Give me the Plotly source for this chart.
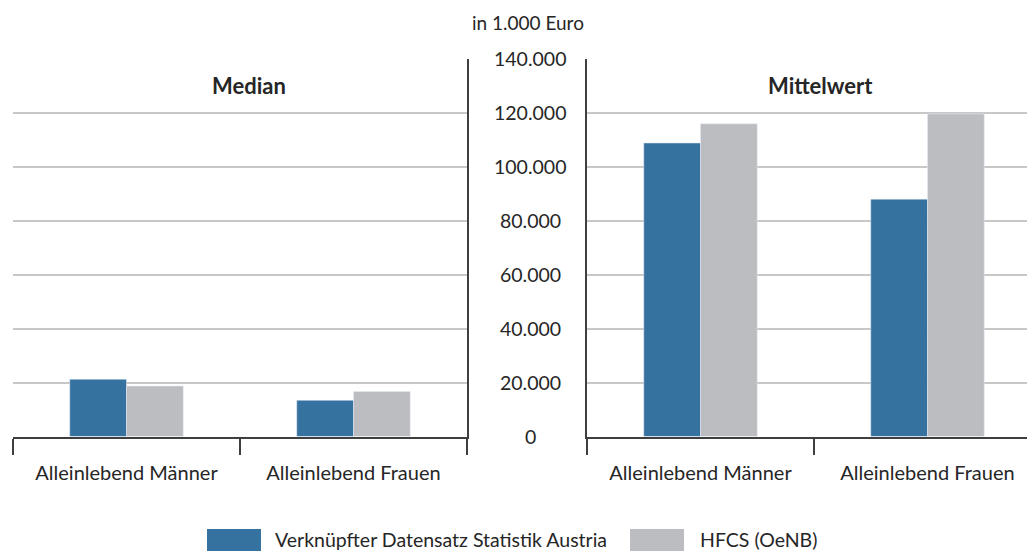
import plotly.graph_objects as go

# --- data -------------------------------------------------------------
categories = ["Alleinlebend Männer", "Alleinlebend Frauen"]
series_names = ["Verknüpfter Datensatz Statistik Austria", "HFCS (OeNB)"]

median_statistik = [21200, 13400]
median_hfcs = [18700, 16700]
mittel_statistik = [108700, 87900]
mittel_hfcs = [115800, 119500]

panel_titles = ["Median", "Mittelwert"]
unit_label = "in 1.000 Euro"
y_ticks = [0, 20000, 40000, 60000, 80000, 100000, 120000, 140000]
y_tick_labels = ["0", "20.000", "40.000", "60.000", "80.000", "100.000", "120.000", "140.000"]

# --- styling ----------------------------------------------------------
W, H = 1027, 551
BLUE = "#35729f"
GREY = "#bcbdc1"
AXIS = "#3f3f3f"
GRID = "#c8c8c8"
TEXT = "#262626"
FONT = "Lato"


def px_x(x):
    return x / W


def px_y(y):
    return 1 - y / H


y_dom = [px_y(436.5), px_y(58.5)]
left_dom = [px_x(13), px_x(467)]
right_dom = [px_x(587), 1.0]
cat_px = (467 - 13) / 2.0
right_span = (W - 587) / cat_px

fig = go.Figure()

fig.add_trace(go.Bar(x=categories, y=median_statistik, marker_color=BLUE,
                     name=series_names[0], xaxis="x", yaxis="y", showlegend=False))
fig.add_trace(go.Bar(x=categories, y=median_hfcs, marker_color=GREY,
                     name=series_names[1], xaxis="x", yaxis="y", showlegend=False))
fig.add_trace(go.Bar(x=categories, y=mittel_statistik, marker_color=BLUE,
                     name=series_names[0], xaxis="x2", yaxis="y2", showlegend=False))
fig.add_trace(go.Bar(x=categories, y=mittel_hfcs, marker_color=GREY,
                     name=series_names[1], xaxis="x2", yaxis="y2", showlegend=False))

xcommon = dict(
    type="category", showline=True, linecolor=AXIS, linewidth=2,
    ticks="outside", tickson="boundaries", ticklen=16, tickwidth=2, tickcolor=AXIS,
    ticklabelstandoff=17,
    tickfont=dict(family=FONT, size=20, color=TEXT), showgrid=False,
    fixedrange=True, zeroline=False,
)
ycommon = dict(
    range=[0, 140000], tickvals=y_ticks, showticklabels=False, ticks="",
    showgrid=True, gridcolor=GRID, gridwidth=1.5, zeroline=False,
    showline=True, linecolor=AXIS, linewidth=2, domain=y_dom,
)

fig.update_layout(
    width=W, height=H,
    margin=dict(l=0, r=0, t=0, b=0),
    paper_bgcolor="white", plot_bgcolor="white",
    barmode="group", bargap=0.5, bargroupgap=0,
    showlegend=False,
    font=dict(family=FONT, color=TEXT),
    xaxis=dict(domain=left_dom, range=[-0.5, 1.5], anchor="y", **xcommon),
    xaxis2=dict(domain=right_dom, range=[-0.5, -0.5 + right_span], anchor="y2", **xcommon),
    yaxis=dict(anchor="x", side="right", **ycommon),
    yaxis2=dict(anchor="x2", side="left", **ycommon),
)

# y tick labels centred in the gap between the panels
for v, t in zip(y_ticks, y_tick_labels):
    fig.add_annotation(x=px_x(530), xref="paper", y=v, yref="y2", text=t,
                       showarrow=False, xanchor="center", yanchor="middle",
                       font=dict(family=FONT, size=19.5, color=TEXT))

fig.add_annotation(x=px_x(528), xref="paper", y=px_y(23), yref="paper", text=unit_label,
                   showarrow=False, xanchor="center", yanchor="middle",
                   font=dict(family=FONT, size=19, color=TEXT))

for cx, t in zip([249, 820], panel_titles):
    fig.add_annotation(x=px_x(cx), xref="paper", y=px_y(85), yref="paper",
                       text="<b>%s</b>" % t, showarrow=False,
                       xanchor="center", yanchor="middle",
                       font=dict(family=FONT, size=22, color=TEXT))

# legend: swatches and labels
legend_items = [(207, 261, 273, BLUE, series_names[0]),
                (630, 684, 698, GREY, series_names[1])]
for x0, x1, tx, col, name in legend_items:
    fig.add_shape(type="rect", xref="paper", yref="paper",
                  x0=px_x(x0), x1=px_x(x1), y0=px_y(552), y1=px_y(529),
                  fillcolor=col, line_width=0)
    fig.add_annotation(x=px_x(tx), xref="paper", y=px_y(539), yref="paper",
                       text=name, showarrow=False, xanchor="left", yanchor="middle",
                       font=dict(family=FONT, size=19.5, color=TEXT))

fig.write_html("out.html")
